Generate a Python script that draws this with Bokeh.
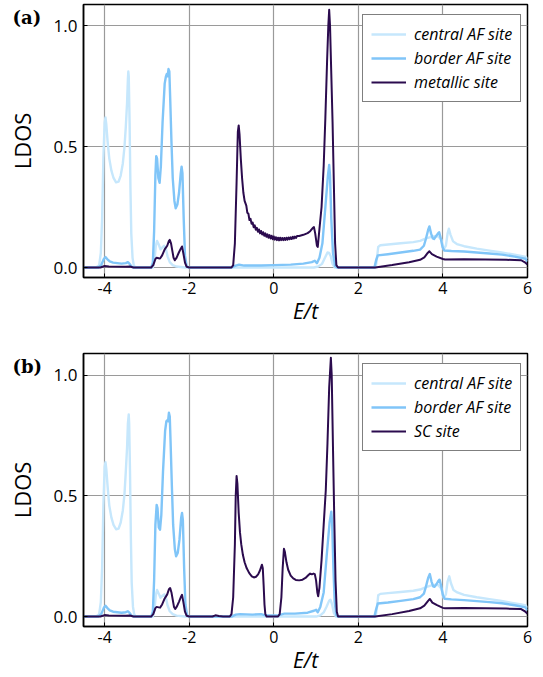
from bokeh.plotting import figure
from bokeh.models import Range1d, Legend, LegendItem, FixedTicker, GridBox
from bokeh.core.properties import value
from bokeh.embed import file_html
from bokeh.resources import INLINE

# ---------------- data (E/t, LDOS) ----------------
x_ticks = [-4, -2, 0, 2, 4, 6]
y_ticks = [0.0, 0.5, 1.0]
x_tick_labels = {-4: "-4", -2: "-2", 0: "0", 2: "2", 4: "4", 6: "6"}
y_tick_labels = {0.0: "0.0", 0.5: "0.5", 1.0: "1.0"}
series_names_a = ["central AF site", "border AF site", "metallic site"]
series_names_b = ["central AF site", "border AF site", "SC site"]
panel_labels = ["(a)", "(b)"]

central_a = [(-4.5, 0.0), (-4.2, 0.0), (-4.13, 0.01), (-4.09, 0.06), (-4.06, 0.2), (-4.03, 0.45),
             (-4.0, 0.6), (-3.98, 0.62), (-3.96, 0.59), (-3.93, 0.52), (-3.89, 0.45), (-3.84, 0.40),
             (-3.79, 0.37), (-3.73, 0.352), (-3.67, 0.355), (-3.62, 0.38), (-3.57, 0.43), (-3.53, 0.5),
             (-3.5, 0.58), (-3.47, 0.68), (-3.45, 0.78), (-3.44, 0.81), (-3.43, 0.79), (-3.41, 0.6),
             (-3.39, 0.33), (-3.37, 0.14), (-3.34, 0.04), (-3.31, 0.008), (-3.27, 0.0), (-2.86, 0.0),
             (-2.82, 0.03), (-2.79, 0.09), (-2.76, 0.11), (-2.72, 0.095), (-2.68, 0.075), (-2.64, 0.082),
             (-2.59, 0.09), (-2.55, 0.075), (-2.51, 0.045), (-2.46, 0.022), (-2.39, 0.01), (-2.3, 0.004),
             (-2.1, 0.0), (0.95, 0.0), (1.05, 0.004), (1.14, 0.015), (1.21, 0.04), (1.27, 0.062),
             (1.31, 0.06), (1.35, 0.045), (1.39, 0.015), (1.44, 0.0), (2.41, 0.0), (2.44, 0.04),
             (2.47, 0.085), (2.52, 0.092), (2.7, 0.095), (3.0, 0.1), (3.3, 0.105), (3.46, 0.11),
             (3.6, 0.12), (3.75, 0.128), (3.88, 0.13), (3.96, 0.115), (4.02, 0.075), (4.07, 0.09),
             (4.11, 0.14), (4.14, 0.16), (4.18, 0.135), (4.24, 0.108), (4.33, 0.097), (4.5, 0.088),
             (4.8, 0.078), (5.1, 0.07), (5.35, 0.063), (5.6, 0.056), (5.85, 0.048), (5.96, 0.044),
             (6.0, 0.035)]

border_a = [(-4.5, 0.0), (-4.15, 0.0), (-4.08, 0.01), (-4.02, 0.035), (-3.98, 0.043), (-3.94, 0.035),
            (-3.88, 0.025), (-3.8, 0.02), (-3.6, 0.016), (-3.5, 0.018), (-3.45, 0.022), (-3.41, 0.015),
            (-3.36, 0.003), (-3.3, 0.0), (-2.9, 0.0), (-2.86, 0.02), (-2.83, 0.15), (-2.8, 0.38),
            (-2.78, 0.46), (-2.76, 0.45), (-2.73, 0.37), (-2.7, 0.35), (-2.67, 0.42), (-2.63, 0.6),
            (-2.58, 0.76), (-2.55, 0.79), (-2.53, 0.80), (-2.51, 0.79), (-2.49, 0.82), (-2.47, 0.81),
            (-2.45, 0.70), (-2.42, 0.52), (-2.39, 0.37), (-2.35, 0.275), (-2.32, 0.245), (-2.28, 0.26),
            (-2.24, 0.31), (-2.2, 0.39), (-2.18, 0.417), (-2.16, 0.39), (-2.13, 0.2), (-2.1, 0.05),
            (-2.06, 0.005), (-2.0, 0.0), (-1.0, 0.0), (-0.9, 0.008), (-0.82, 0.012), (-0.7, 0.008),
            (-0.3, 0.008), (0.0, 0.01), (0.4, 0.012), (0.7, 0.016), (0.9, 0.022), (0.97, 0.028),
            (1.02, 0.018), (1.08, 0.04), (1.15, 0.1), (1.22, 0.25), (1.28, 0.38), (1.31, 0.424),
            (1.33, 0.38), (1.36, 0.2), (1.4, 0.06), (1.45, 0.005), (1.5, 0.0), (2.38, 0.0),
            (2.42, 0.03), (2.46, 0.05), (2.7, 0.055), (3.0, 0.062), (3.3, 0.069), (3.46, 0.074),
            (3.55, 0.09), (3.6, 0.12), (3.65, 0.155), (3.68, 0.17), (3.72, 0.14), (3.76, 0.12),
            (3.79, 0.118), (3.84, 0.13), (3.88, 0.14), (3.91, 0.146), (3.95, 0.12), (3.99, 0.085),
            (4.03, 0.07), (4.2, 0.068), (4.5, 0.066), (4.8, 0.062), (5.1, 0.058), (5.4, 0.053),
            (5.7, 0.045), (5.95, 0.036), (6.0, 0.025)]

metallic_a = [(-4.5, 0.0), (-4.1, 0.0), (-4.0, 0.006), (-3.9, 0.004), (-3.5, 0.003), (-3.4, 0.004),
              (-3.32, 0.0), (-2.9, 0.0), (-2.85, 0.01), (-2.8, 0.035), (-2.77, 0.04), (-2.72, 0.038),
              (-2.69, 0.037), (-2.64, 0.05), (-2.58, 0.075), (-2.52, 0.09), (-2.48, 0.11), (-2.46, 0.114),
              (-2.43, 0.1), (-2.4, 0.07), (-2.37, 0.04), (-2.34, 0.03), (-2.3, 0.04), (-2.25, 0.06),
              (-2.2, 0.078), (-2.17, 0.087), (-2.14, 0.06), (-2.1, 0.02), (-2.06, 0.003), (-2.0, 0.0),
              (-1.0, 0.0), (-0.96, 0.01), (-0.92, 0.1), (-0.88, 0.35), (-0.85, 0.56), (-0.83, 0.587),
              (-0.81, 0.55), (-0.78, 0.45), (-0.75, 0.37), (-0.72, 0.31), (-0.69, 0.275),
              (-0.650, 0.256), (-0.625, 0.226), (-0.600, 0.222), (-0.575, 0.196), (-0.550, 0.201),
              (-0.525, 0.181), (-0.500, 0.186), (-0.475, 0.166), (-0.450, 0.174), (-0.425, 0.156),
              (-0.400, 0.164), (-0.375, 0.148), (-0.350, 0.157), (-0.325, 0.141), (-0.300, 0.151),
              (-0.275, 0.136), (-0.250, 0.146), (-0.225, 0.131), (-0.200, 0.141), (-0.175, 0.127),
              (-0.150, 0.137), (-0.125, 0.123), (-0.100, 0.134), (-0.075, 0.120), (-0.050, 0.131),
              (-0.025, 0.117), (0.000, 0.128), (0.025, 0.115), (0.050, 0.125), (0.075, 0.113),
              (0.100, 0.123), (0.125, 0.112), (0.150, 0.123), (0.175, 0.113), (0.200, 0.122),
              (0.225, 0.113), (0.250, 0.122), (0.275, 0.114), (0.300, 0.123), (0.325, 0.115),
              (0.350, 0.124), (0.375, 0.117), (0.400, 0.125), (0.425, 0.118), (0.450, 0.127),
              (0.475, 0.120), (0.500, 0.128), (0.525, 0.122), (0.550, 0.130), (0.6, 0.13),
              (0.7, 0.135), (0.8, 0.142), (0.86, 0.15), (0.92, 0.163), (0.95, 0.167), (0.98, 0.14),
              (1.02, 0.09), (1.04, 0.085), (1.08, 0.16), (1.13, 0.25), (1.18, 0.42), (1.22, 0.62),
              (1.26, 0.85), (1.29, 1.0), (1.31, 1.065), (1.33, 1.0), (1.36, 0.8), (1.39, 0.6),
              (1.42, 0.35), (1.45, 0.1), (1.48, 0.01), (1.52, 0.0), (2.4, 0.0), (2.8, 0.01),
              (3.2, 0.022), (3.46, 0.032), (3.56, 0.042), (3.64, 0.06), (3.68, 0.067), (3.74, 0.055),
              (3.85, 0.045), (4.0, 0.035), (4.05, 0.033), (4.5, 0.034), (5.0, 0.033), (5.5, 0.032),
              (5.85, 0.03), (5.95, 0.02), (6.0, 0.012)]

central_b = [(-4.5, 0.0), (-4.2, 0.0), (-4.13, 0.01), (-4.09, 0.06), (-4.06, 0.2), (-4.03, 0.46),
             (-4.0, 0.62), (-3.98, 0.64), (-3.96, 0.61), (-3.93, 0.54), (-3.89, 0.46), (-3.84, 0.41),
             (-3.79, 0.38), (-3.73, 0.362), (-3.67, 0.365), (-3.62, 0.39), (-3.57, 0.44), (-3.53, 0.51),
             (-3.5, 0.6), (-3.47, 0.7), (-3.45, 0.8), (-3.43, 0.838), (-3.42, 0.8), (-3.4, 0.6),
             (-3.38, 0.33), (-3.36, 0.14), (-3.33, 0.04), (-3.3, 0.008), (-3.26, 0.0), (-2.86, 0.0),
             (-2.82, 0.03), (-2.79, 0.09), (-2.76, 0.11), (-2.72, 0.095), (-2.68, 0.078), (-2.64, 0.085),
             (-2.59, 0.092), (-2.55, 0.077), (-2.51, 0.045), (-2.46, 0.022), (-2.39, 0.01), (-2.3, 0.004),
             (-2.1, 0.0), (1.0, 0.0), (1.1, 0.005), (1.18, 0.017), (1.25, 0.042), (1.31, 0.066),
             (1.34, 0.07), (1.38, 0.05), (1.42, 0.015), (1.47, 0.0), (2.41, 0.0), (2.44, 0.04),
             (2.47, 0.088), (2.52, 0.094), (2.7, 0.097), (3.0, 0.102), (3.3, 0.107), (3.46, 0.112),
             (3.6, 0.122), (3.75, 0.13), (3.88, 0.132), (3.96, 0.117), (4.02, 0.077), (4.07, 0.092),
             (4.11, 0.145), (4.15, 0.167), (4.19, 0.138), (4.25, 0.11), (4.34, 0.1), (4.5, 0.09),
             (4.8, 0.08), (5.1, 0.072), (5.35, 0.066), (5.6, 0.058), (5.85, 0.05), (5.96, 0.046),
             (6.0, 0.036)]

border_b = [(-4.5, 0.0), (-4.15, 0.0), (-4.08, 0.01), (-4.02, 0.036), (-3.98, 0.045), (-3.94, 0.036),
            (-3.88, 0.026), (-3.8, 0.02), (-3.6, 0.016), (-3.5, 0.018), (-3.45, 0.022), (-3.41, 0.015),
            (-3.36, 0.003), (-3.3, 0.0), (-2.9, 0.0), (-2.86, 0.02), (-2.83, 0.15), (-2.8, 0.38),
            (-2.77, 0.463), (-2.75, 0.45), (-2.72, 0.37), (-2.69, 0.36), (-2.66, 0.42), (-2.62, 0.6),
            (-2.57, 0.77), (-2.54, 0.81), (-2.52, 0.814), (-2.5, 0.81), (-2.48, 0.845), (-2.46, 0.83),
            (-2.44, 0.72), (-2.41, 0.54), (-2.38, 0.38), (-2.34, 0.28), (-2.31, 0.25), (-2.27, 0.265),
            (-2.23, 0.32), (-2.19, 0.41), (-2.17, 0.43), (-2.15, 0.40), (-2.12, 0.2), (-2.09, 0.05),
            (-2.05, 0.005), (-2.0, 0.0), (-1.0, 0.0), (-0.9, 0.008), (-0.8, 0.01), (-0.5, 0.008),
            (-0.3, 0.01), (-0.2, 0.005), (0.1, 0.005), (0.25, 0.012), (0.5, 0.012), (0.8, 0.016),
            (0.95, 0.024), (1.0, 0.028), (1.04, 0.018), (1.1, 0.04), (1.18, 0.1), (1.25, 0.25),
            (1.32, 0.39), (1.36, 0.435), (1.38, 0.39), (1.41, 0.2), (1.44, 0.06), (1.48, 0.005),
            (1.52, 0.0), (2.38, 0.0), (2.42, 0.03), (2.46, 0.054), (2.7, 0.058), (3.0, 0.065),
            (3.3, 0.072), (3.46, 0.08), (3.55, 0.095), (3.6, 0.125), (3.65, 0.16), (3.69, 0.176),
            (3.73, 0.145), (3.77, 0.125), (3.8, 0.123), (3.85, 0.135), (3.89, 0.147), (3.92, 0.153),
            (3.96, 0.125), (4.0, 0.088), (4.04, 0.074), (4.2, 0.071), (4.5, 0.068), (4.8, 0.064),
            (5.1, 0.06), (5.4, 0.055), (5.7, 0.047), (5.95, 0.038), (6.0, 0.026)]

sc_b = [(-4.5, 0.0), (-4.1, 0.0), (-4.0, 0.006), (-3.9, 0.004), (-3.5, 0.003), (-3.4, 0.004),
        (-3.32, 0.0), (-2.9, 0.0), (-2.85, 0.01), (-2.8, 0.035), (-2.77, 0.04), (-2.72, 0.038),
        (-2.69, 0.037), (-2.64, 0.05), (-2.58, 0.075), (-2.52, 0.092), (-2.48, 0.113), (-2.45, 0.118),
        (-2.42, 0.1), (-2.39, 0.07), (-2.36, 0.04), (-2.33, 0.032), (-2.29, 0.042), (-2.24, 0.062),
        (-2.2, 0.08), (-2.17, 0.09), (-2.14, 0.062), (-2.1, 0.02), (-2.06, 0.003), (-2.0, 0.0),
        (-1.45, 0.0), (-1.38, 0.005), (-1.3, 0.002), (-1.2, 0.0), (-1.04, 0.0), (-1.0, 0.01),
        (-0.96, 0.08), (-0.92, 0.3), (-0.9, 0.5), (-0.88, 0.583), (-0.86, 0.55), (-0.83, 0.43),
        (-0.8, 0.35), (-0.77, 0.3), (-0.73, 0.255), (-0.69, 0.225), (-0.64, 0.2), (-0.58, 0.18),
        (-0.52, 0.167), (-0.47, 0.162), (-0.42, 0.165), (-0.37, 0.175), (-0.33, 0.19), (-0.3, 0.205),
        (-0.28, 0.215), (-0.26, 0.2), (-0.24, 0.13), (-0.22, 0.05), (-0.2, 0.01), (-0.17, 0.0),
        (0.1, 0.0), (0.14, 0.01), (0.18, 0.08), (0.21, 0.2), (0.24, 0.281), (0.26, 0.27),
        (0.3, 0.225), (0.34, 0.194), (0.4, 0.17), (0.46, 0.158), (0.52, 0.152), (0.6, 0.15),
        (0.68, 0.153), (0.75, 0.16), (0.82, 0.172), (0.86, 0.178), (0.9, 0.175), (0.94, 0.178),
        (0.97, 0.176), (1.0, 0.15), (1.03, 0.1), (1.05, 0.084), (1.08, 0.12), (1.13, 0.235),
        (1.18, 0.38), (1.23, 0.525), (1.27, 0.72), (1.31, 0.95), (1.35, 1.073), (1.37, 1.0),
        (1.4, 0.7), (1.43, 0.41), (1.46, 0.15), (1.49, 0.02), (1.52, 0.0), (2.4, 0.0), (2.8, 0.01),
        (3.2, 0.023), (3.46, 0.034), (3.56, 0.045), (3.64, 0.063), (3.69, 0.073), (3.75, 0.058),
        (3.86, 0.047), (4.0, 0.036), (4.05, 0.034), (4.5, 0.035), (5.0, 0.034), (5.5, 0.033),
        (5.85, 0.031), (5.95, 0.02), (6.0, 0.012)]

colors = ["#c6e7fc", "#80c5f8", "#2b0b4e"]
line_widths = [2.4, 2.4, 2.0]

FONT = "Open Sans"
W = 535
H1, H2 = 339, 337


def make_panel(height, top, bottom, ymax, names, data):
    p = figure(width=W, height=height, x_range=Range1d(-4.5, 6.0), y_range=Range1d(-0.0413, ymax),
               output_backend="svg", toolbar_location=None,
               min_border_left=83, min_border_right=8, min_border_top=top, min_border_bottom=bottom)
    p.background_fill_color = "white"
    p.border_fill_color = "white"
    p.outline_line_color = "black"
    p.outline_line_width = 1.5

    p.xaxis.ticker = FixedTicker(ticks=x_ticks)
    p.yaxis.ticker = FixedTicker(ticks=y_ticks)
    p.xaxis.major_label_overrides = x_tick_labels
    p.yaxis.major_label_overrides = y_tick_labels
    for ax in (p.xaxis, p.yaxis):
        ax.axis_line_color = "black"
        ax.axis_line_width = 1.5
        ax.major_tick_in = 4
        ax.major_tick_out = 0
        ax.minor_tick_line_color = None
        ax.major_tick_line_color = "black"
        ax.major_label_text_font = FONT
        ax.major_label_text_font_size = "16px"
        ax.major_label_text_color = "black"
        ax.axis_label_text_font = FONT
        ax.axis_label_text_color = "black"
    p.yaxis.major_label_text_font_size = "17px"
    p.xaxis.major_label_standoff = 4
    p.yaxis.major_label_standoff = 6
    p.xaxis.axis_label = "E/t"
    p.xaxis.axis_label_text_font_style = "italic"
    p.xaxis.axis_label_text_font_size = "21px"
    p.xaxis.axis_label_standoff = 0
    p.yaxis.axis_label = "LDOS"
    p.yaxis.axis_label_text_font_style = "normal"
    p.yaxis.axis_label_text_font_size = "22px"
    p.yaxis.axis_label_standoff = 14

    p.xgrid.grid_line_color = "#9a9a9a"
    p.ygrid.grid_line_color = "#9a9a9a"
    p.xgrid.grid_line_width = 1.2
    p.ygrid.grid_line_width = 1.2

    items = []
    for name, pts, c, w in zip(names, data, colors, line_widths):
        xs = [a for a, b in pts]
        ys = [b for a, b in pts]
        r = p.line(xs, ys, line_color=c, line_width=w, line_join="round")
        items.append(LegendItem(label=name, renderers=[r]))

    leg = Legend(items=items, location=(279, 175))
    leg.label_text_font = FONT
    leg.label_text_font_style = "italic"
    leg.label_text_font_size = "16px"
    leg.label_text_color = "black"
    leg.border_line_color = "black"
    leg.border_line_width = 1
    leg.background_fill_color = "white"
    leg.background_fill_alpha = 1.0
    leg.glyph_width = 35
    leg.glyph_height = 20
    leg.label_height = 20
    leg.label_standoff = 8
    leg.padding = 8
    leg.spacing = 2
    leg.margin = 0
    p.add_layout(leg)
    return p


def make_tag(text, height, top_px):
    # transparent overlay of the same size as its panel; its ranges are in pixels (y from the top)
    t = figure(width=W, height=height, x_range=Range1d(0, W), y_range=Range1d(height, 0),
               output_backend="svg", toolbar_location=None, x_axis_type=None, y_axis_type=None,
               min_border=0)
    t.frame_align = False
    t.outline_line_color = None
    t.background_fill_alpha = 0.0
    t.border_fill_alpha = 0.0
    t.xgrid.visible = False
    t.ygrid.visible = False
    t.text(x=[12], y=[top_px], text=[text], text_font=value("DejaVu Serif"),
           text_font_style="bold", text_font_size="18px", text_baseline="top",
           text_align="left", text_color="black")
    return t


p1 = make_panel(H1, 4, 62, 1.0868, series_names_a, [central_a, border_a, metallic_a])
p2 = make_panel(H2, 14, 49, 1.0909, series_names_b, [central_b, border_b, sc_b])
tag1 = make_tag(panel_labels[0], H1, 6)
tag2 = make_tag(panel_labels[1], H2, 16)

grid = GridBox(children=[(p1, 0, 0), (tag1, 0, 0), (p2, 1, 0), (tag2, 1, 0)], spacing=0)
open("out.html", "w").write(file_html(grid, INLINE))
